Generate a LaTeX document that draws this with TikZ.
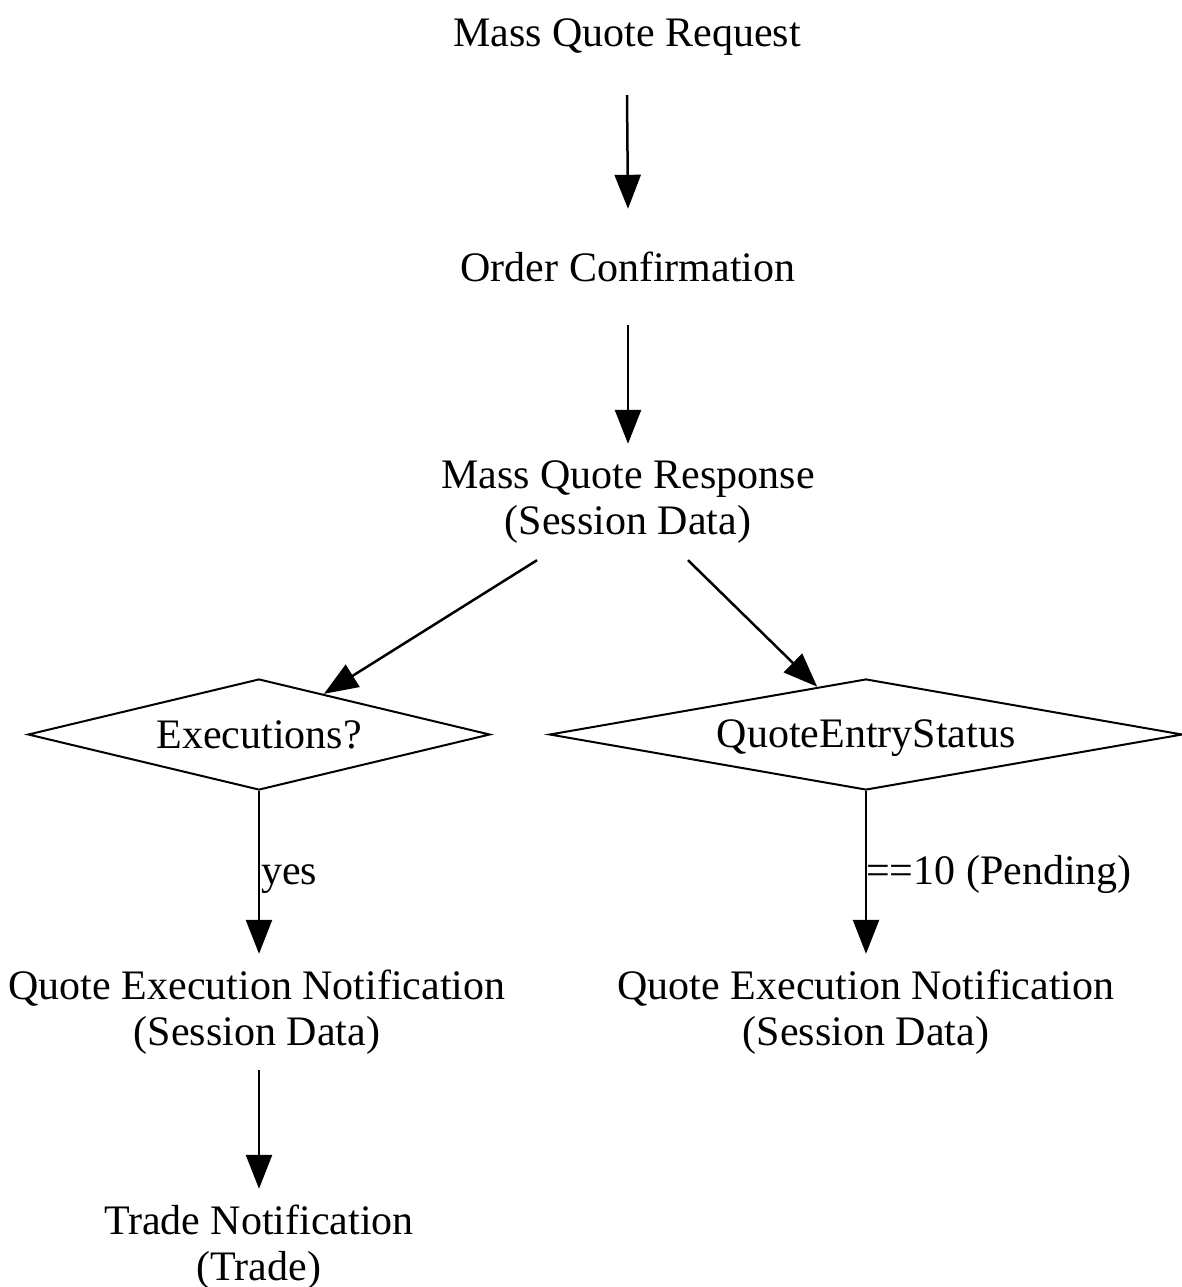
\documentclass[tikz,border=0pt]{standalone}
\usepackage{fontspec}
\setmainfont{Liberation Serif}
\usetikzlibrary{arrows.meta,shapes.geometric}
\begin{document}
\begin{tikzpicture}[x=1pt,y=-1pt,
  every node/.style={font=\fontsize{42}{46}\selectfont},
  txt/.style={draw=none,inner sep=0pt,minimum height=116pt,align=center},
  dia/.style={diamond,draw,line width=2pt,inner sep=0pt,shape aspect=4.16,minimum width=462pt,minimum height=111pt},
  lab/.style={inner sep=0pt,anchor=base west},
  arr/.style={line width=2.5pt,-{Triangle[length=34pt,width=26pt]}}]
\useasboundingbox (0,0) rectangle (1181,1287);
\node[txt] (mqreq) at (627,37) {Mass Quote Request};
\node[txt] (oc) at (628,267) {Order Confirmation};
\node[txt] (resp) at (628,502) {Mass Quote Response\\(Session Data)};
\node[dia] (exec) at (259,734.5) {Executions?};
\node[dia,shape aspect=5.7,minimum width=633pt] (qes) at (866,734.5) {\raisebox{-4pt}[\height][\depth]{QuoteEntryStatus}};
\node[txt] (qenl) at (257,1012) {Quote Execution Notification\\(Session Data)};
\node[txt] (qenr) at (866,1012) {Quote Execution Notification\\(Session Data)};
\node[txt] (trade) at (259,1247) {Trade Notification\\(Trade)};
\draw[arr] (mqreq.south) -- (oc.north);
\draw[arr] (oc.south) -- (resp.north);
\draw[arr] ([xshift=-91pt]resp.south) -- (exec);
\draw[arr] ([xshift=60pt]resp.south) -- (qes);
\draw[arr] (exec.south) -- (qenl.north -| exec.south);
\draw[arr] (qes.south) -- (qenr.north -| qes.south);
\draw[arr] (qenl.south -| trade.north) -- (trade.north);
\node[lab] (yes) at (261,884) {yes};
\node[lab] (pend) at (866,884) {==10 (Pending)};
\end{tikzpicture}
\end{document}
